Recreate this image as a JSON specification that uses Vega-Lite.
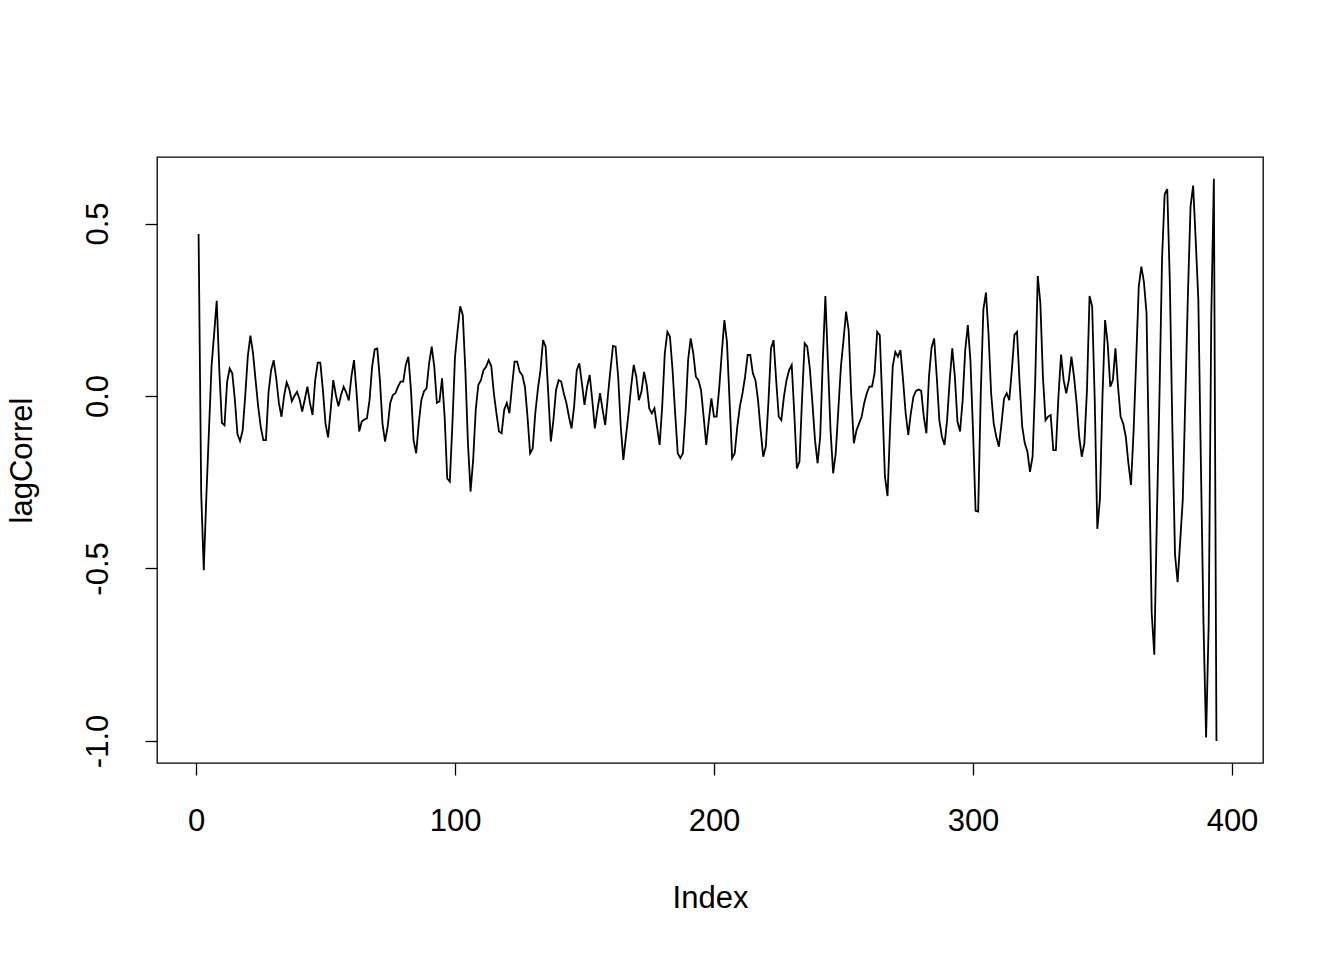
{
"$schema": "https://vega.github.io/schema/vega-lite/v6.json",
"width": 1106, "height": 606,
"autosize": {"type": "none"},
"padding": {"left": 157, "top": 157, "right": 81, "bottom": 197},
"background": "white",
"config": {"view": {"stroke": "black", "strokeWidth": 1.3}, "font": "Liberation Sans"},
"data": {"values": [
{"Index":1,"lagCorrel":0.47},{"Index":2,"lagCorrel":-0.28},{"Index":3,"lagCorrel":-0.505},{"Index":4,"lagCorrel":-0.29},{"Index":5,"lagCorrel":-0.1},{"Index":6,"lagCorrel":0.087},{"Index":7,"lagCorrel":0.18},{"Index":8,"lagCorrel":0.276},{"Index":9,"lagCorrel":0.075},{"Index":10,"lagCorrel":-0.078},
{"Index":11,"lagCorrel":-0.085},{"Index":12,"lagCorrel":0.04},{"Index":13,"lagCorrel":0.08},{"Index":14,"lagCorrel":0.066},{"Index":15,"lagCorrel":-0.01},{"Index":16,"lagCorrel":-0.11},{"Index":17,"lagCorrel":-0.13},{"Index":18,"lagCorrel":-0.1},{"Index":19,"lagCorrel":0.0},{"Index":20,"lagCorrel":0.115},
{"Index":21,"lagCorrel":0.175},{"Index":22,"lagCorrel":0.125},{"Index":23,"lagCorrel":0.046},{"Index":24,"lagCorrel":-0.03},{"Index":25,"lagCorrel":-0.09},{"Index":26,"lagCorrel":-0.128},{"Index":27,"lagCorrel":-0.128},{"Index":28,"lagCorrel":0.01},{"Index":29,"lagCorrel":0.075},{"Index":30,"lagCorrel":0.104},
{"Index":31,"lagCorrel":0.05},{"Index":32,"lagCorrel":-0.02},{"Index":33,"lagCorrel":-0.06},{"Index":34,"lagCorrel":0.0},{"Index":35,"lagCorrel":0.04},{"Index":36,"lagCorrel":0.02},{"Index":37,"lagCorrel":-0.015},{"Index":38,"lagCorrel":0.0},{"Index":39,"lagCorrel":0.012},{"Index":40,"lagCorrel":-0.01},
{"Index":41,"lagCorrel":-0.045},{"Index":42,"lagCorrel":-0.01},{"Index":43,"lagCorrel":0.027},{"Index":44,"lagCorrel":-0.02},{"Index":45,"lagCorrel":-0.055},{"Index":46,"lagCorrel":0.045},{"Index":47,"lagCorrel":0.097},{"Index":48,"lagCorrel":0.097},{"Index":49,"lagCorrel":0.017},{"Index":50,"lagCorrel":-0.08},
{"Index":51,"lagCorrel":-0.12},{"Index":52,"lagCorrel":-0.04},{"Index":53,"lagCorrel":0.046},{"Index":54,"lagCorrel":0.003},{"Index":55,"lagCorrel":-0.03},{"Index":56,"lagCorrel":0.003},{"Index":57,"lagCorrel":0.027},{"Index":58,"lagCorrel":0.01},{"Index":59,"lagCorrel":-0.013},{"Index":60,"lagCorrel":0.056},
{"Index":61,"lagCorrel":0.104},{"Index":62,"lagCorrel":0.01},{"Index":63,"lagCorrel":-0.103},{"Index":64,"lagCorrel":-0.074},{"Index":65,"lagCorrel":-0.068},{"Index":66,"lagCorrel":-0.065},{"Index":67,"lagCorrel":-0.012},{"Index":68,"lagCorrel":0.085},{"Index":69,"lagCorrel":0.135},{"Index":70,"lagCorrel":0.138},
{"Index":71,"lagCorrel":0.046},{"Index":72,"lagCorrel":-0.08},{"Index":73,"lagCorrel":-0.132},{"Index":74,"lagCorrel":-0.089},{"Index":75,"lagCorrel":-0.02},{"Index":76,"lagCorrel":0.003},{"Index":77,"lagCorrel":0.008},{"Index":78,"lagCorrel":0.027},{"Index":79,"lagCorrel":0.042},{"Index":80,"lagCorrel":0.042},
{"Index":81,"lagCorrel":0.09},{"Index":82,"lagCorrel":0.114},{"Index":83,"lagCorrel":0.017},{"Index":84,"lagCorrel":-0.128},{"Index":85,"lagCorrel":-0.166},{"Index":86,"lagCorrel":-0.08},{"Index":87,"lagCorrel":-0.012},{"Index":88,"lagCorrel":0.013},{"Index":89,"lagCorrel":0.022},{"Index":90,"lagCorrel":0.095},
{"Index":91,"lagCorrel":0.143},{"Index":92,"lagCorrel":0.085},{"Index":93,"lagCorrel":-0.02},{"Index":94,"lagCorrel":-0.016},{"Index":95,"lagCorrel":0.051},{"Index":96,"lagCorrel":-0.06},{"Index":97,"lagCorrel":-0.239},{"Index":98,"lagCorrel":-0.248},{"Index":99,"lagCorrel":-0.08},{"Index":100,"lagCorrel":0.114},
{"Index":101,"lagCorrel":0.19},{"Index":102,"lagCorrel":0.26},{"Index":103,"lagCorrel":0.235},{"Index":104,"lagCorrel":0.075},{"Index":105,"lagCorrel":-0.137},{"Index":106,"lagCorrel":-0.277},{"Index":107,"lagCorrel":-0.186},{"Index":108,"lagCorrel":-0.04},{"Index":109,"lagCorrel":0.032},{"Index":110,"lagCorrel":0.046},
{"Index":111,"lagCorrel":0.075},{"Index":112,"lagCorrel":0.085},{"Index":113,"lagCorrel":0.104},{"Index":114,"lagCorrel":0.087},{"Index":115,"lagCorrel":0.008},{"Index":116,"lagCorrel":-0.05},{"Index":117,"lagCorrel":-0.103},{"Index":118,"lagCorrel":-0.108},{"Index":119,"lagCorrel":-0.04},{"Index":120,"lagCorrel":-0.02},
{"Index":121,"lagCorrel":-0.05},{"Index":122,"lagCorrel":0.027},{"Index":123,"lagCorrel":0.1},{"Index":124,"lagCorrel":0.1},{"Index":125,"lagCorrel":0.07},{"Index":126,"lagCorrel":0.06},{"Index":127,"lagCorrel":0.027},{"Index":128,"lagCorrel":-0.06},{"Index":129,"lagCorrel":-0.166},{"Index":130,"lagCorrel":-0.152},
{"Index":131,"lagCorrel":-0.05},{"Index":132,"lagCorrel":0.02},{"Index":133,"lagCorrel":0.075},{"Index":134,"lagCorrel":0.162},{"Index":135,"lagCorrel":0.143},{"Index":136,"lagCorrel":0.008},{"Index":137,"lagCorrel":-0.132},{"Index":138,"lagCorrel":-0.07},{"Index":139,"lagCorrel":0.017},{"Index":140,"lagCorrel":0.046},
{"Index":141,"lagCorrel":0.042},{"Index":142,"lagCorrel":0.008},{"Index":143,"lagCorrel":-0.02},{"Index":144,"lagCorrel":-0.06},{"Index":145,"lagCorrel":-0.094},{"Index":146,"lagCorrel":-0.03},{"Index":147,"lagCorrel":0.075},{"Index":148,"lagCorrel":0.095},{"Index":149,"lagCorrel":0.037},{"Index":150,"lagCorrel":-0.026},
{"Index":151,"lagCorrel":0.027},{"Index":152,"lagCorrel":0.061},{"Index":153,"lagCorrel":-0.012},{"Index":154,"lagCorrel":-0.094},{"Index":155,"lagCorrel":-0.04},{"Index":156,"lagCorrel":0.008},{"Index":157,"lagCorrel":-0.04},{"Index":158,"lagCorrel":-0.084},{"Index":159,"lagCorrel":-0.002},{"Index":160,"lagCorrel":0.075},
{"Index":161,"lagCorrel":0.145},{"Index":162,"lagCorrel":0.143},{"Index":163,"lagCorrel":0.056},{"Index":164,"lagCorrel":-0.089},{"Index":165,"lagCorrel":-0.185},{"Index":166,"lagCorrel":-0.118},{"Index":167,"lagCorrel":-0.05},{"Index":168,"lagCorrel":0.027},{"Index":169,"lagCorrel":0.09},{"Index":170,"lagCorrel":0.056},
{"Index":171,"lagCorrel":-0.012},{"Index":172,"lagCorrel":0.013},{"Index":173,"lagCorrel":0.07},{"Index":174,"lagCorrel":0.032},{"Index":175,"lagCorrel":-0.036},{"Index":176,"lagCorrel":-0.05},{"Index":177,"lagCorrel":-0.036},{"Index":178,"lagCorrel":-0.089},{"Index":179,"lagCorrel":-0.142},{"Index":180,"lagCorrel":-0.03},
{"Index":181,"lagCorrel":0.124},{"Index":182,"lagCorrel":0.186},{"Index":183,"lagCorrel":0.172},{"Index":184,"lagCorrel":0.075},{"Index":185,"lagCorrel":-0.05},{"Index":186,"lagCorrel":-0.166},{"Index":187,"lagCorrel":-0.18},{"Index":188,"lagCorrel":-0.166},{"Index":189,"lagCorrel":-0.05},{"Index":190,"lagCorrel":0.104},
{"Index":191,"lagCorrel":0.167},{"Index":192,"lagCorrel":0.124},{"Index":193,"lagCorrel":0.056},{"Index":194,"lagCorrel":0.046},{"Index":195,"lagCorrel":0.017},{"Index":196,"lagCorrel":-0.06},{"Index":197,"lagCorrel":-0.142},{"Index":198,"lagCorrel":-0.07},{"Index":199,"lagCorrel":-0.007},{"Index":200,"lagCorrel":-0.06},
{"Index":201,"lagCorrel":-0.06},{"Index":202,"lagCorrel":0.022},{"Index":203,"lagCorrel":0.124},{"Index":204,"lagCorrel":0.22},{"Index":205,"lagCorrel":0.157},{"Index":206,"lagCorrel":-0.012},{"Index":207,"lagCorrel":-0.18},{"Index":208,"lagCorrel":-0.166},{"Index":209,"lagCorrel":-0.089},{"Index":210,"lagCorrel":-0.03},
{"Index":211,"lagCorrel":0.008},{"Index":212,"lagCorrel":0.056},{"Index":213,"lagCorrel":0.119},{"Index":214,"lagCorrel":0.119},{"Index":215,"lagCorrel":0.066},{"Index":216,"lagCorrel":0.046},{"Index":217,"lagCorrel":-0.012},{"Index":218,"lagCorrel":-0.099},{"Index":219,"lagCorrel":-0.176},{"Index":220,"lagCorrel":-0.147},
{"Index":221,"lagCorrel":-0.02},{"Index":222,"lagCorrel":0.138},{"Index":223,"lagCorrel":0.162},{"Index":224,"lagCorrel":0.046},{"Index":225,"lagCorrel":-0.06},{"Index":226,"lagCorrel":-0.07},{"Index":227,"lagCorrel":-0.002},{"Index":228,"lagCorrel":0.046},{"Index":229,"lagCorrel":0.075},{"Index":230,"lagCorrel":0.09},
{"Index":231,"lagCorrel":-0.05},{"Index":232,"lagCorrel":-0.21},{"Index":233,"lagCorrel":-0.19},{"Index":234,"lagCorrel":-0.007},{"Index":235,"lagCorrel":0.153},{"Index":236,"lagCorrel":0.143},{"Index":237,"lagCorrel":0.08},{"Index":238,"lagCorrel":-0.02},{"Index":239,"lagCorrel":-0.128},{"Index":240,"lagCorrel":-0.195},
{"Index":241,"lagCorrel":-0.118},{"Index":242,"lagCorrel":0.104},{"Index":243,"lagCorrel":0.29},{"Index":244,"lagCorrel":0.095},{"Index":245,"lagCorrel":-0.1},{"Index":246,"lagCorrel":-0.224},{"Index":247,"lagCorrel":-0.166},{"Index":248,"lagCorrel":-0.04},{"Index":249,"lagCorrel":0.085},{"Index":250,"lagCorrel":0.162},
{"Index":251,"lagCorrel":0.245},{"Index":252,"lagCorrel":0.19},{"Index":253,"lagCorrel":0.0},{"Index":254,"lagCorrel":-0.137},{"Index":255,"lagCorrel":-0.1},{"Index":256,"lagCorrel":-0.08},{"Index":257,"lagCorrel":-0.06},{"Index":258,"lagCorrel":-0.02},{"Index":259,"lagCorrel":0.008},{"Index":260,"lagCorrel":0.027},
{"Index":261,"lagCorrel":0.027},{"Index":262,"lagCorrel":0.066},{"Index":263,"lagCorrel":0.186},{"Index":264,"lagCorrel":0.177},{"Index":265,"lagCorrel":-0.02},{"Index":266,"lagCorrel":-0.234},{"Index":267,"lagCorrel":-0.29},{"Index":268,"lagCorrel":-0.089},{"Index":269,"lagCorrel":0.085},{"Index":270,"lagCorrel":0.128},
{"Index":271,"lagCorrel":0.114},{"Index":272,"lagCorrel":0.133},{"Index":273,"lagCorrel":0.046},{"Index":274,"lagCorrel":-0.05},{"Index":275,"lagCorrel":-0.113},{"Index":276,"lagCorrel":-0.05},{"Index":277,"lagCorrel":-0.002},{"Index":278,"lagCorrel":0.015},{"Index":279,"lagCorrel":0.019},{"Index":280,"lagCorrel":0.015},
{"Index":281,"lagCorrel":-0.06},{"Index":282,"lagCorrel":-0.108},{"Index":283,"lagCorrel":0.056},{"Index":284,"lagCorrel":0.141},{"Index":285,"lagCorrel":0.167},{"Index":286,"lagCorrel":0.056},{"Index":287,"lagCorrel":-0.07},{"Index":288,"lagCorrel":-0.118},{"Index":289,"lagCorrel":-0.142},{"Index":290,"lagCorrel":-0.07},
{"Index":291,"lagCorrel":0.046},{"Index":292,"lagCorrel":0.138},{"Index":293,"lagCorrel":0.056},{"Index":294,"lagCorrel":-0.074},{"Index":295,"lagCorrel":-0.103},{"Index":296,"lagCorrel":-0.012},{"Index":297,"lagCorrel":0.133},{"Index":298,"lagCorrel":0.206},{"Index":299,"lagCorrel":0.104},{"Index":300,"lagCorrel":-0.1},
{"Index":301,"lagCorrel":-0.333},{"Index":302,"lagCorrel":-0.335},{"Index":303,"lagCorrel":0.008},{"Index":304,"lagCorrel":0.25},{"Index":305,"lagCorrel":0.3},{"Index":306,"lagCorrel":0.18},{"Index":307,"lagCorrel":0.008},{"Index":308,"lagCorrel":-0.08},{"Index":309,"lagCorrel":-0.118},{"Index":310,"lagCorrel":-0.147},
{"Index":311,"lagCorrel":-0.08},{"Index":312,"lagCorrel":-0.007},{"Index":313,"lagCorrel":0.008},{"Index":314,"lagCorrel":-0.012},{"Index":315,"lagCorrel":0.075},{"Index":316,"lagCorrel":0.177},{"Index":317,"lagCorrel":0.186},{"Index":318,"lagCorrel":0.037},{"Index":319,"lagCorrel":-0.089},{"Index":320,"lagCorrel":-0.137},
{"Index":321,"lagCorrel":-0.161},{"Index":322,"lagCorrel":-0.22},{"Index":323,"lagCorrel":-0.176},{"Index":324,"lagCorrel":0.037},{"Index":325,"lagCorrel":0.348},{"Index":326,"lagCorrel":0.27},{"Index":327,"lagCorrel":0.056},{"Index":328,"lagCorrel":-0.07},{"Index":329,"lagCorrel":-0.06},{"Index":330,"lagCorrel":-0.055},
{"Index":331,"lagCorrel":-0.157},{"Index":332,"lagCorrel":-0.157},{"Index":333,"lagCorrel":0.0},{"Index":334,"lagCorrel":0.12},{"Index":335,"lagCorrel":0.046},{"Index":336,"lagCorrel":0.008},{"Index":337,"lagCorrel":0.046},{"Index":338,"lagCorrel":0.114},{"Index":339,"lagCorrel":0.056},{"Index":340,"lagCorrel":-0.02},
{"Index":341,"lagCorrel":-0.118},{"Index":342,"lagCorrel":-0.176},{"Index":343,"lagCorrel":-0.137},{"Index":344,"lagCorrel":0.017},{"Index":345,"lagCorrel":0.29},{"Index":346,"lagCorrel":0.26},{"Index":347,"lagCorrel":-0.01},{"Index":348,"lagCorrel":-0.385},{"Index":349,"lagCorrel":-0.3},{"Index":350,"lagCorrel":0.0},
{"Index":351,"lagCorrel":0.22},{"Index":352,"lagCorrel":0.153},{"Index":353,"lagCorrel":0.027},{"Index":354,"lagCorrel":0.046},{"Index":355,"lagCorrel":0.138},{"Index":356,"lagCorrel":0.027},{"Index":357,"lagCorrel":-0.06},{"Index":358,"lagCorrel":-0.08},{"Index":359,"lagCorrel":-0.118},{"Index":360,"lagCorrel":-0.195},
{"Index":361,"lagCorrel":-0.258},{"Index":362,"lagCorrel":-0.103},{"Index":363,"lagCorrel":0.104},{"Index":364,"lagCorrel":0.317},{"Index":365,"lagCorrel":0.375},{"Index":366,"lagCorrel":0.33},{"Index":367,"lagCorrel":0.24},{"Index":368,"lagCorrel":-0.2},{"Index":369,"lagCorrel":-0.63},{"Index":370,"lagCorrel":-0.75},
{"Index":371,"lagCorrel":-0.35},{"Index":372,"lagCorrel":0.0},{"Index":373,"lagCorrel":0.4},{"Index":374,"lagCorrel":0.585},{"Index":375,"lagCorrel":0.6},{"Index":376,"lagCorrel":0.33},{"Index":377,"lagCorrel":-0.1},{"Index":378,"lagCorrel":-0.46},{"Index":379,"lagCorrel":-0.54},{"Index":380,"lagCorrel":-0.42},
{"Index":381,"lagCorrel":-0.3},{"Index":382,"lagCorrel":0.0},{"Index":383,"lagCorrel":0.3},{"Index":384,"lagCorrel":0.55},{"Index":385,"lagCorrel":0.61},{"Index":386,"lagCorrel":0.45},{"Index":387,"lagCorrel":0.28},{"Index":388,"lagCorrel":-0.2},{"Index":389,"lagCorrel":-0.66},{"Index":390,"lagCorrel":-0.99},
{"Index":391,"lagCorrel":-0.66},{"Index":392,"lagCorrel":0.23},{"Index":393,"lagCorrel":0.63},{"Index":394,"lagCorrel":-1.0}
]},
"mark": {"type": "line", "color": "black", "strokeWidth": 1.8},
"encoding": {
  "x": {"field": "Index", "type": "quantitative",
    "scale": {"domain": [-15.06, 411.97], "nice": false, "zero": false},
    "axis": {"values": [0, 100, 200, 300, 400], "domain": false, "grid": false, "tickColor": "black", "tickSize": 12, "tickWidth": 1.3,
      "labelFont": "Liberation Sans", "labelFontSize": 31, "labelColor": "black", "labelPadding": 31, "labelFlush": false,
      "title": "Index", "titleFont": "Liberation Sans", "titleFontSize": 31, "titleFontWeight": "normal", "titleColor": "black", "titlePadding": 47}},
  "y": {"field": "lagCorrel", "type": "quantitative",
    "scale": {"domain": [-1.064, 0.693], "nice": false, "zero": false},
    "axis": {"values": [-1, -0.5, 0, 0.5], "format": ".1f", "labelExpr": "replace(datum.label, '\u2212', '-')", "domain": false, "grid": false, "tickColor": "black", "tickSize": 12, "tickWidth": 1.3,
      "labelFont": "Liberation Sans", "labelFontSize": 31, "labelColor": "black", "labelPadding": 31, "labelAngle": -90, "labelAlign": "center", "labelBaseline": "bottom", "labelFlush": false,
      "title": "lagCorrel", "titleFont": "Liberation Sans", "titleFontSize": 31, "titleFontWeight": "normal", "titleColor": "black", "titlePadding": 44}}
}
}
